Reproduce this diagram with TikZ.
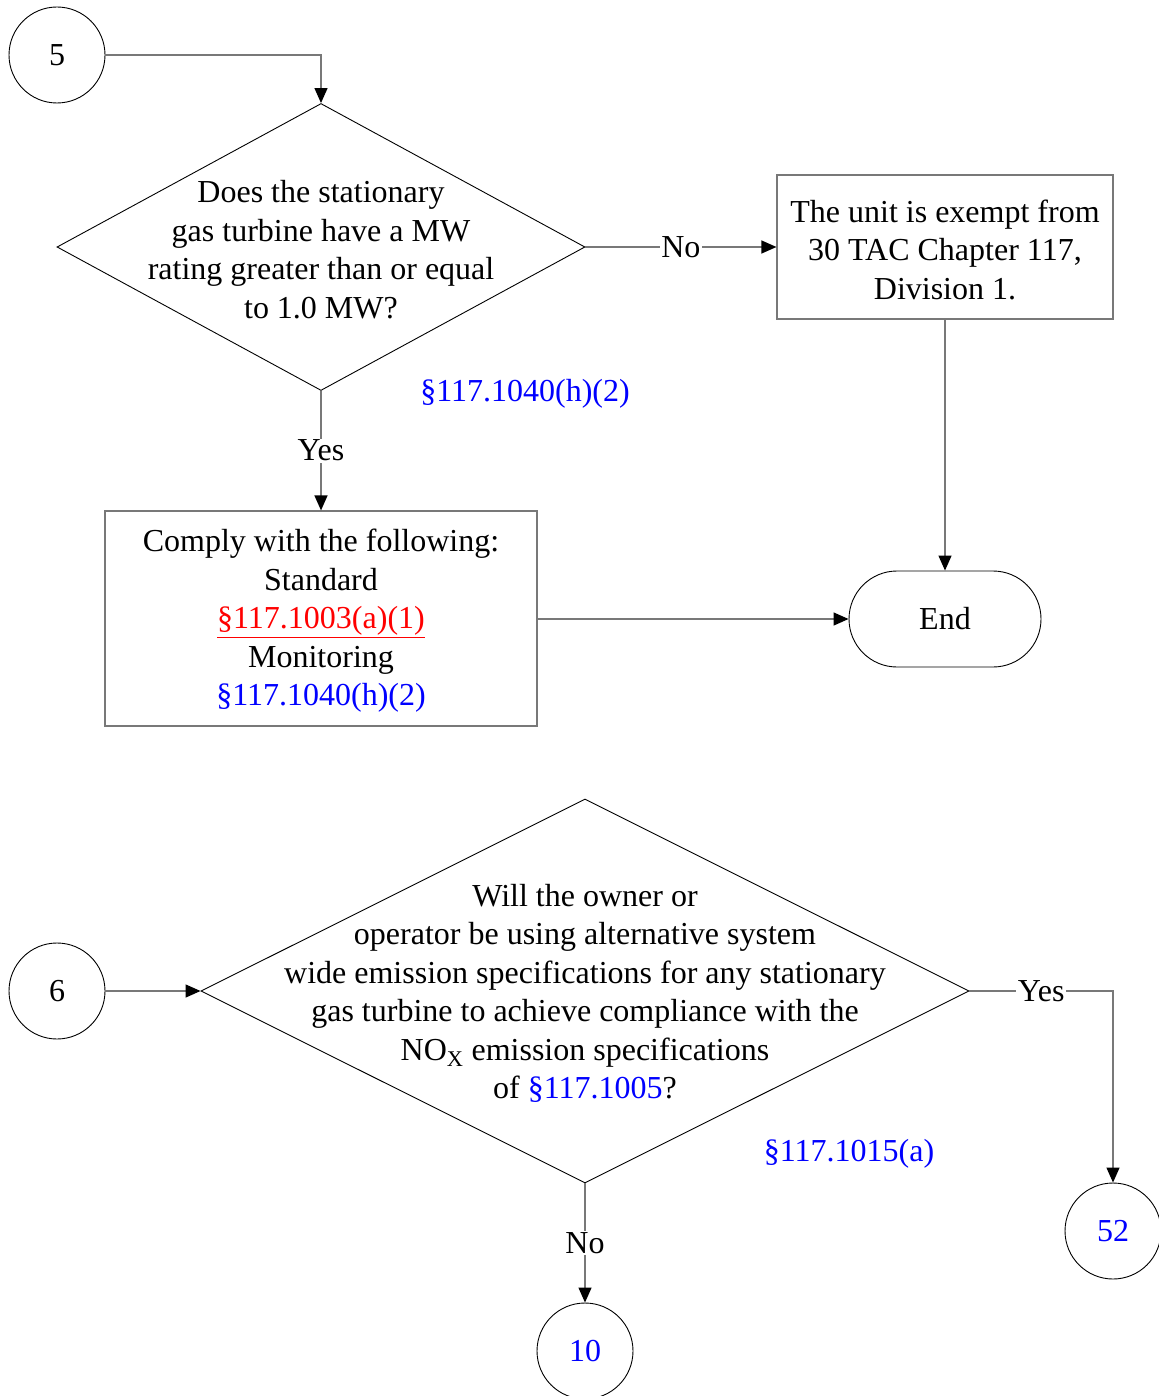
\documentclass[tikz,border=0pt]{standalone}
\usepackage{fontspec}
\setmainfont{Liberation Serif}
\usetikzlibrary{arrows.meta,shapes.geometric}
\definecolor{linkblue}{RGB}{0,0,255}
\definecolor{linkred}{RGB}{255,0,0}
\definecolor{connector}{RGB}{120,120,120}
\begin{document}
\begin{tikzpicture}[x=1pt,y=-1pt,
  every node/.style={font=\fontsize{32}{38.5}\selectfont},
  txt/.style={align=center,inner sep=0pt,yshift=-2.5pt},
  offpage/.style={circle,draw=black,line width=0.9pt,minimum size=96pt,inner sep=0pt},
  decision/.style={diamond,draw=black,line width=0.9pt,inner sep=0pt},
  procbox/.style={rectangle,draw=connector,line width=1.2pt,inner sep=0pt},
  terminal/.style={rectangle,rounded corners=48pt,draw=black,line width=0.9pt,
    minimum width=192pt,minimum height=96pt,inner sep=0pt},
  conn/.style={draw=connector,line width=1.3pt,
    -{Triangle[length=15pt,width=13pt,color=black]}},
  lbl/.style={fill=white,inner sep=1.5pt},
  ref/.style={text=linkblue,inner sep=0pt,yshift=-2.5pt}]
\useasboundingbox (0,0) rectangle (1158,1396);

% ---- upper flow: connector 5 ----
\node[offpage] (c5) at (57,55) {5};
\node[decision,minimum width=528pt,minimum height=287pt] (d1) at (321,247) {};
\node[txt] (d1t) at (d1.center) {Does the stationary\\gas turbine have a MW\\rating greater than or equal\\to 1.0 MW?};
\node[procbox,minimum width=336pt,minimum height=144pt] (exempt) at (945,247) {};
\node[txt] (exemptt) at (exempt.center) {The unit is exempt from\\30 TAC Chapter 117,\\Division 1.};
\node[terminal] (end) at (945,619) {End};
\node[procbox,minimum width=432pt,minimum height=215pt] (comply) at (321,618.5) {};
\node[txt] (complyt) at (comply.center) {Comply with the following:\\Standard\\
  {\color{linkred}\underline{§117.1003(a)(1)}}\\Monitoring\\{\color{linkblue}§117.1040(h)(2)}};
\node[ref] (r1) at (525,391) {§117.1040(h)(2)};

\coordinate (c5turn) at (321,55);
\draw[conn] (c5.east) -- (c5turn) -- (d1.north);
\draw[conn] (d1.east) -- node[lbl] {No} (exempt.west);
\draw[conn] (d1.south) -- node[lbl,pos=0.5] {Yes} (comply.north);
\draw[conn] (exempt.south) -- (end.north);
\draw[conn] (comply.east |- end.west) -- (end.west);

% ---- lower flow: connector 6 ----
\node[offpage] (c6) at (57,991) {6};
\node[decision,minimum width=768pt,minimum height=384pt] (d2) at (585,991) {};
\node[txt] (d2t) at (d2.center) {Will the owner or\\operator be using alternative system\\
  wide emission specifications for any stationary\\gas turbine to achieve compliance with the\\
  NO\textsubscript{X} emission specifications\\of {\color{linkblue}§117.1005}?};
\node[ref] (r2) at (849,1151) {§117.1015(a)};
\node[offpage,text=linkblue] (c52) at (1113,1231) {52};
\node[offpage,text=linkblue] (c10) at (585,1351) {10};

\draw[conn] (c6.east) -- (d2.west);
\draw[conn] (d2.east) -| node[lbl,pos=0.25] {Yes} (c52.north);
\draw[conn] (d2.south) -- node[lbl,pos=0.5] {No} (c10.north);
\end{tikzpicture}
\end{document}
